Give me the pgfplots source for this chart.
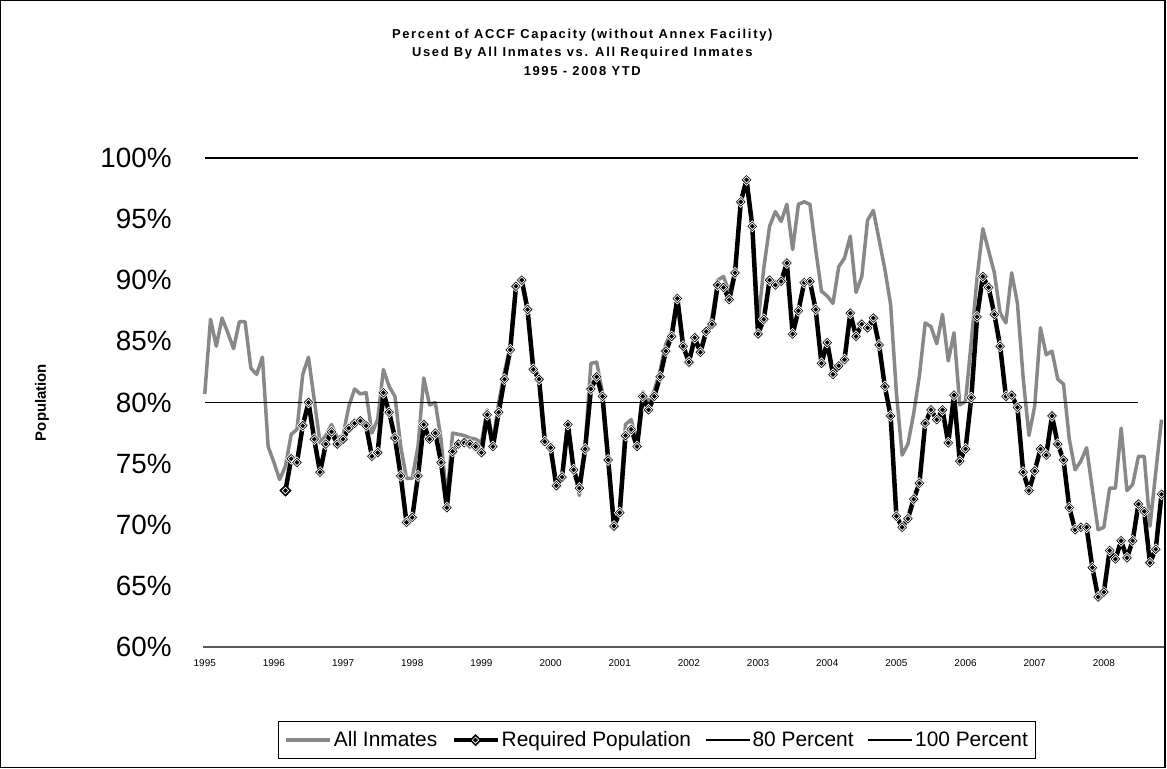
\documentclass[border=0pt]{standalone}
\usepackage{fontspec}
\setmainfont{Liberation Sans}
\newfontfamily\titlefont[LetterSpace=13]{Liberation Sans}
\usepackage{pgfplots}
\pgfplotsset{compat=1.18}

\definecolor{allgray}{RGB}{136,136,136}

% Excel-like diamond: black body, thin white ring inside
\pgfdeclareplotmark{xldiamond}{%
  \pgfpathmoveto{\pgfqpoint{0pt}{\pgfplotmarksize}}%
  \pgfpathlineto{\pgfqpoint{\pgfplotmarksize}{0pt}}%
  \pgfpathlineto{\pgfqpoint{0pt}{-\pgfplotmarksize}}%
  \pgfpathlineto{\pgfqpoint{-\pgfplotmarksize}{0pt}}%
  \pgfpathclose
  \pgfusepathqfillstroke
  \pgfsetstrokecolor{white}%
  \pgfsetlinewidth{0.7pt}%
  \pgfpathmoveto{\pgfqpoint{0pt}{0.58\pgfplotmarksize}}%
  \pgfpathlineto{\pgfqpoint{0.58\pgfplotmarksize}{0pt}}%
  \pgfpathlineto{\pgfqpoint{0pt}{-0.58\pgfplotmarksize}}%
  \pgfpathlineto{\pgfqpoint{-0.58\pgfplotmarksize}{0pt}}%
  \pgfpathclose
  \pgfusepathqstroke
}

\begin{document}
\begin{tikzpicture}[x=1bp,y=1bp]
\begin{axis}[
    at={(0,0)}, anchor=south west,
    scale only axis,
    width=962bp, height=490bp,
    xmin=-0.35, xmax=166.35,
    ymin=60, ymax=100,
    clip=false,
    axis x line*=bottom,
    axis y line*=left,
    x axis line style={draw=black!65, line width=2bp, -},
    y axis line style={draw=none},
    tick style={draw=none},
    xtick={0,12,24,36,48,60,72,84,96,108,120,132,144,156},
    xticklabels={1995,1996,1997,1998,1999,2000,2001,2002,2003,2004,2005,2006,2007,2008},
    xticklabel style={font=\fontsize{10}{12}\selectfont, inner sep=0pt, yshift=-12bp},
    ytick={60,65,70,75,80,85,90,95,100},
    yticklabels={60\%,65\%,70\%,75\%,80\%,85\%,90\%,95\%,100\%},
    yticklabel style={font=\fontsize{28}{32}\selectfont, inner sep=0pt, xshift=-31bp},
    legend columns=4,
    legend style={at={(0.473,-0.19)}, anchor=center, draw=black, line width=1bp,
        font=\fontsize{21}{24}\selectfont, inner xsep=6bp, inner ysep=8bp,
        /tikz/every even column/.append style={column sep=12bp}},
    legend image code/.code={\draw[mark repeat=2,mark phase=2,#1] plot coordinates {(0bp,0bp)(22bp,0bp)(44bp,0bp)};},
]

% All Inmates (monthly, Jan 1995 = 0)
\addplot[allgray, line width=3.5bp, line join=round] coordinates {
    (0,80.7)(1,86.8)(2,84.6)(3,86.9)(4,85.7)(5,84.4)(6,86.6)(7,86.6)(8,82.8)(9,82.3)(10,83.7)(11,76.4)
    (12,75.1)(13,73.7)(14,74.8)(15,77.4)(16,77.8)(17,82.3)(18,83.7)(19,80.2)(20,76.7)(21,77.3)(22,78.2)(23,77.1)
    (24,77.3)(25,79.7)(26,81.1)(27,80.7)(28,80.8)(29,77.5)(30,78.6)(31,82.7)(32,81.3)(33,80.5)(34,76.4)(35,73.8)
    (36,73.8)(37,76.4)(38,82.0)(39,79.8)(40,80.0)(41,77.0)(42,72.0)(43,77.5)(44,77.4)(45,77.3)(46,77.1)(47,77.0)
    (48,76.7)(49,79.4)(50,76.8)(51,80.0)(52,82.5)(53,84.6)(54,89.6)(55,90.1)(56,87.8)(57,83.0)(58,82.1)(59,77.0)
    (60,76.5)(61,73.0)(62,74.2)(63,78.4)(64,74.6)(65,72.4)(66,76.5)(67,83.2)(68,83.3)(69,80.8)(70,75.5)(71,70.1)
    (72,71.3)(73,78.2)(74,78.6)(75,76.6)(76,80.9)(77,80.0)(78,81.0)(79,82.6)(80,84.8)(81,85.8)(82,88.6)(83,84.8)
    (84,83.4)(85,84.9)(86,84.3)(87,85.8)(88,86.9)(89,90.0)(90,90.3)(91,89.0)(92,90.6)(93,96.4)(94,98.2)(95,94.3)
    (96,86.5)(97,91.0)(98,94.4)(99,95.6)(100,94.8)(101,96.2)(102,92.5)(103,96.2)(104,96.4)(105,96.2)(106,92.5)(107,89.1)
    (108,88.7)(109,88.1)(110,91.1)(111,91.8)(112,93.6)(113,89.0)(114,90.3)(115,94.9)(116,95.7)(117,93.3)(118,90.9)(119,88.0)
    (120,80.8)(121,75.7)(122,76.6)(123,79.1)(124,82.2)(125,86.5)(126,86.2)(127,84.8)(128,87.2)(129,83.4)(130,85.7)(131,79.8)
    (132,80.1)(133,85.0)(134,90.2)(135,94.2)(136,92.4)(137,90.6)(138,87.3)(139,86.5)(140,90.6)(141,88.1)(142,82.0)(143,77.3)
    (144,79.7)(145,86.1)(146,83.9)(147,84.2)(148,81.9)(149,81.5)(150,77.0)(151,74.5)(152,75.2)(153,76.3)(154,72.9)(155,69.6)
    (156,69.8)(157,73.0)(158,73.0)(159,77.9)(160,72.8)(161,73.3)(162,75.6)(163,75.6)(164,69.9)(165,74.3)(166,78.6)
};
\addlegendentry{All Inmates}

% Required Population
\addplot[black, line width=4.5bp, line join=round, mark=xldiamond, mark size=5.5bp,
    mark options={solid, fill=black, draw=black, line width=0.8bp, line join=miter}] coordinates {
    (14,72.8)(15,75.4)(16,75.1)(17,78.1)(18,80.0)(19,77.0)(20,74.3)(21,76.6)(22,77.6)(23,76.6)
    (24,77.0)(25,77.9)(26,78.3)(27,78.5)(28,78.1)(29,75.6)(30,75.9)(31,80.8)(32,79.2)(33,77.1)(34,74.0)(35,70.2)
    (36,70.6)(37,74.0)(38,78.2)(39,77.0)(40,77.5)(41,75.1)(42,71.4)(43,76.0)(44,76.6)(45,76.7)(46,76.6)(47,76.4)
    (48,75.9)(49,79.0)(50,76.4)(51,79.2)(52,81.9)(53,84.3)(54,89.5)(55,90.0)(56,87.6)(57,82.7)(58,81.9)(59,76.8)
    (60,76.3)(61,73.2)(62,73.9)(63,78.2)(64,74.5)(65,73.0)(66,76.2)(67,81.1)(68,82.1)(69,80.5)(70,75.3)(71,69.9)
    (72,71.0)(73,77.3)(74,77.8)(75,76.4)(76,80.5)(77,79.4)(78,80.5)(79,82.1)(80,84.2)(81,85.4)(82,88.5)(83,84.6)
    (84,83.3)(85,85.3)(86,84.1)(87,85.8)(88,86.4)(89,89.6)(90,89.4)(91,88.4)(92,90.6)(93,96.4)(94,98.2)(95,94.4)
    (96,85.6)(97,86.8)(98,90.0)(99,89.6)(100,89.9)(101,91.4)(102,85.6)(103,87.5)(104,89.8)(105,89.9)(106,87.6)(107,83.2)
    (108,84.9)(109,82.3)(110,83.0)(111,83.5)(112,87.3)(113,85.4)(114,86.4)(115,86.1)(116,86.9)(117,84.7)(118,81.3)(119,78.9)
    (120,70.7)(121,69.8)(122,70.5)(123,72.1)(124,73.4)(125,78.3)(126,79.4)(127,78.6)(128,79.4)(129,76.7)(130,80.6)(131,75.2)
    (132,76.2)(133,80.4)(134,87.0)(135,90.3)(136,89.4)(137,87.2)(138,84.6)(139,80.5)(140,80.6)(141,79.6)(142,74.3)(143,72.8)
    (144,74.4)(145,76.2)(146,75.7)(147,78.9)(148,76.6)(149,75.3)(150,71.4)(151,69.6)(152,69.8)(153,69.8)(154,66.5)(155,64.1)
    (156,64.5)(157,67.9)(158,67.2)(159,68.7)(160,67.3)(161,68.7)(162,71.7)(163,71.1)(164,66.9)(165,68.0)(166,72.5)
};
\addlegendentry{Required Population}

\addplot[black, line width=1.6bp] coordinates {(0,80)(162,80)};
\addlegendentry{80 Percent}
\addplot[black, line width=1.6bp] coordinates {(0,100)(162,100)};
\addlegendentry{100 Percent}

\end{axis}

% title, axis label, outer frame
\node[font=\titlefont\bfseries\fontsize{13}{15}\selectfont] at (380,613) {Percent of ACCF Capacity (without Annex Facility)};
\node[font=\titlefont\bfseries\fontsize{13}{15}\selectfont] at (380,595) {Used By All Inmates vs. All Required Inmates};
\node[font=\titlefont\bfseries\fontsize{13}{15}\selectfont] at (380,577) {1995 - 2008 YTD};
\node[rotate=90, font=\bfseries\fontsize{15}{18}\selectfont] at (-161,245) {Population};

\draw[line width=1.5bp] (-202.25,-120.25) rectangle (963.25,647.25);
\end{tikzpicture}
\end{document}
